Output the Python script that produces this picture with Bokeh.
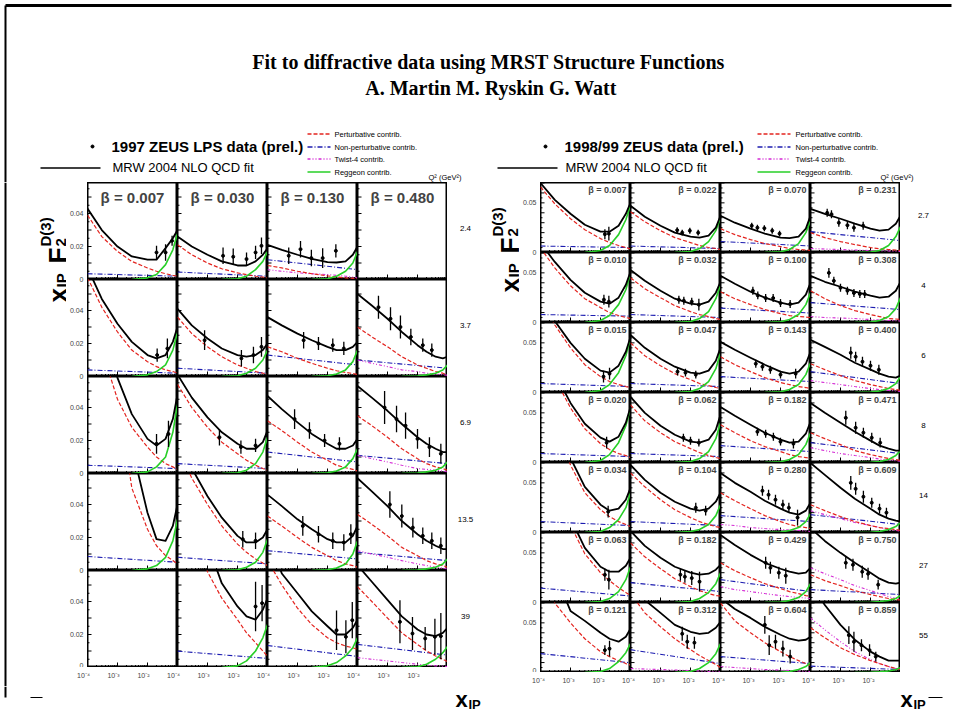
import math
from bokeh.plotting import figure
from bokeh.layouts import row, column
from bokeh.models import Range1d, Label, FixedTicker, CustomJSTickFormatter
from bokeh.core.properties import value
from bokeh.embed import file_html
from bokeh.resources import INLINE

# ---------------------------------------------------------------- data
XG = [1e-4, 3e-4, 1e-3, 3e-3, 1e-2, 2e-2, 4e-2, 7e-2, 1e-1]   # x_IP grid of total / perturbative / twist-4
XR = [3e-3, 1e-2, 2e-2, 4e-2, 7e-2, 1e-1]                    # x_IP grid of Reggeon curve
XB = [1e-4, 1e-1]                                            # x_IP grid of non-perturbative curve

TITLE1 = "Fit to diffractive data using MRST Structure Functions"
TITLE2 = "A. Martin  M. Ryskin G. Watt"
L_DATA_NAME = "1997 ZEUS LPS data (prel.)"
R_DATA_NAME = "1998/99 ZEUS data (prel.)"
FIT_NAME = "MRW 2004 NLO QCD fit"
COMP_NAMES = ["Perturbative contrib.", "Non-perturbative contrib.", "Twist-4 contrib.", "Reggeon contrib."]

L_BETA = ["0.007", "0.030", "0.130", "0.480"]
L_Q2 = ["2.4", "3.7", "6.9", "13.5", "39"]
R_Q2 = ["2.7", "4", "6", "8", "14", "27", "55"]
R_BETA = [
    ["0.007", "0.022", "0.070", "0.231"],
    ["0.010", "0.032", "0.100", "0.308"],
    ["0.015", "0.047", "0.143", "0.400"],
    ["0.020", "0.062", "0.182", "0.471"],
    ["0.034", "0.104", "0.280", "0.609"],
    ["0.063", "0.182", "0.429", "0.750"],
    ["0.121", "0.312", "0.604", "0.859"],
]
L_YTICKS = [0.0, 0.02, 0.04]
R_YTICKS = [0.0, 0.05]
YMAX_L = 0.0588
YMAX_R = 0.0705
X_MAJOR = [1e-3, 1e-2]
X_MINOR = [k * 10.0 ** e for e in (-4, -3, -2) for k in range(2, 10)]
Y_MAJOR = [0.01, 0.02, 0.03, 0.04, 0.05, 0.06, 0.07]
Y_MINOR = [0.005, 0.015, 0.025, 0.035, 0.045, 0.055, 0.065]

# ---- left panel (1997 LPS), rows = Q2, cols = beta
L_TOT = [
    [[.043, .030, .020, .014, .012, .012, .019, .025, .030],
     [.026, .020, .015, .011, .0085, .0085, .011, .015, .019],
     [.021, .018, .015, .0125, .0105, .0103, .011, .015, .020],
     None],
    [[.066, .047, .032, .021, .013, .011, .013, .021, .030],
     [.041, .031, .023, .017, .013, .012, .013, .016, .020],
     [.036, .031, .026, .022, .018, .016, .016, .018, .021],
     [.050, .043, .035, .027, .019, .015, .012, .011, .012]],
    [[.20, .10, .058, .036, .021, .017, .021, .033, .048],
     [.060, .046, .034, .025, .018, .015, .015, .019, .026],
     [.047, .039, .031, .024, .018, .015, .015, .017, .021],
     [.053, .046, .038, .030, .022, .018, .015, .013, .013]],
    [[.40, .25, .14, .075, .035, .019, .018, .027, .040],
     [.080, .062, .045, .032, .021, .017, .017, .020, .025],
     [.046, .039, .031, .025, .019, .017, .017, .021, .027],
     [.056, .048, .039, .030, .022, .018, .015, .013, .013]],
    [None,
     [.25, .14, .075, .051, .037, .031, .029, .035, .042],
     [.080, .057, .045, .034, .025, .020, .020, .024, .029],
     [.062, .052, .041, .031, .023, .020, .019, .021, .024]],
]
L_PERT = [
    [[.039, .026, .017, .011, .007, .005, .0035, .0025, .002],
     [.021, .015, .010, .0065, .004, .003, .002, .0015, .001],
     [.0085, .007, .005, .0035, .0022, .0015, .001, .0007, .0005],
     None],
    [[.060, .042, .027, .016, .009, .006, .004, .003, .002],
     [.036, .026, .018, .012, .007, .005, .003, .002, .0015],
     [.018, .015, .011, .008, .005, .0035, .0025, .0018, .0012],
     [.030, .024, .018, .012, .007, .005, .003, .002, .001]],
    [[.15, .075, .045, .028, .016, .010, .006, .004, .0025],
     [.054, .040, .028, .019, .012, .008, .005, .003, .002],
     [.032, .026, .019, .013, .008, .005, .0035, .0025, .0015],
     [.035, .029, .022, .015, .009, .006, .004, .003, .002]],
    [[.35, .22, .11, .050, .025, .015, .009, .006, .004],
     [.075, .056, .040, .027, .016, .011, .007, .0045, .003],
     [.033, .027, .020, .014, .009, .006, .004, .003, .002],
     [.034, .028, .021, .014, .009, .006, .004, .003, .002]],
    [None,
     [.16, .095, .058, .042, .029, .021, .015, .010, .0067],
     [.065, .050, .036, .026, .018, .015, .013, .012, .011],
     [.049, .040, .030, .021, .014, .010, .007, .005, .0036]],
]
L_NONP = [
    [[.0035, .002], [.0045, .002], [.012, .006], None],
    [[.004, .002], [.005, .002], [.013, .007], [.010, .005]],
    [[.005, .003], [.006, .003], [.013, .007], [.011, .006]],
    [[.0085, .005], [.008, .004], [.012, .007], [.011, .006]],
    [None, [.0099, .0055], [.0133, .0067], [.014, .0075]],
]
L_TW4 = [
    [None, None, [.006, .005, .004, .0035, .003, .0025, .002, .0015, .001], None],
    [None, None, None, [.010, .008, .006, .004, .003, .002, .0015, .001, .0008]],
    [None, None, None, [.011, .009, .007, .005, .003, .0025, .002, .0015, .001]],
    [None, None, None, [.012, .010, .008, .006, .004, .003, .002, .0015, .001]],
    [None, None, None, [.006, .005, .004, .003, .002, .0015, .001, .0008, .0006]],
]
L_REGG = [
    [[0, .001, .003, .009, .018, .028], [0, .0005, .002, .006, .011, .017],
     [0, .0005, .002, .005, .010, .017], None],
    [[0, .001, .003, .007, .016, .027], [0, .0005, .002, .005, .010, .016],
     [0, .0005, .0015, .004, .009, .016], [0, .0003, .001, .002, .004, .007]],
    [[0, .001, .004, .010, .025, .042], [0, .0005, .002, .006, .013, .022],
     [0, .0005, .0015, .004, .009, .015], [0, .0003, .001, .002, .004, .007]],
    [[0, .001, .003, .008, .018, .031], [0, .0005, .002, .005, .011, .019],
     [0, .0005, .0015, .004, .010, .018], [0, .0003, .001, .002, .004, .007]],
    [None, [0, .001, .004, .010, .018, .026],
     [0, .001, .003, .007, .012, .018], [0, .0005, .002, .005, .009, .0127]],
]
# data points: [x_IP, value, error]
L_PTS = [
    [[[2.0e-2, .0164, .004], [4.0e-2, .0164, .005], [6.6e-2, .0235, .003]],
     [[3.3e-3, .0144, .005], [7.2e-3, .0138, .005], [2.0e-2, .0124, .004], [4.0e-2, .0164, .004], [6.3e-2, .0204, .005]],
     [[5.1e-4, .0144, .005], [1.26e-3, .0184, .005], [2.9e-3, .013, .005], [6.9e-3, .013, .006], [1.9e-2, .0174, .004]],
     []],
    [[[2.1e-2, .013, .004], [4.6e-2, .017, .006]],
     [[8e-4, .022, .006], [1.35e-2, .011, .005], [3.4e-2, .013, .005], [6.3e-2, .018, .006]],
     [[1.6e-3, .022, .005], [5e-3, .020, .004], [1.5e-2, .019, .004], [3.5e-2, .017, .004]],
     [[5e-4, .042, .007], [1.26e-3, .035, .007], [2.7e-3, .030, .007], [6e-3, .024, .005], [1.5e-2, .019, .004], [3e-2, .016, .004]]],
    [[[2e-2, .018, .006], [5e-2, .024, .008]],
     [[2.5e-3, .022, .005], [1.3e-2, .016, .004], [4e-2, .017, .004]],
     [[8e-4, .033, .006], [2.5e-3, .026, .005], [8e-3, .020, .004], [2.5e-2, .018, .004]],
     [[8e-4, .040, .010], [2e-3, .033, .008], [4e-3, .029, .008], [1e-2, .021, .006], [2.5e-2, .016, .006], [6e-2, .012, .006]]],
    [[],
     [[1.5e-2, .019, .005], [4e-2, .018, .005]],
     [[1.5e-3, .027, .006], [5e-3, .022, .005], [1.5e-2, .018, .005], [3.5e-2, .017, .005], [6e-2, .022, .006]],
     [[1.2e-3, .040, .008], [3e-3, .033, .007], [7e-3, .026, .006], [1.5e-2, .021, .005], [3e-2, .018, .005], [6e-2, .015, .005]]],
    [[],
     [[4e-2, .037, .015], [6.6e-2, .039, .011]],
     [[2e-2, .0226, .012], [4.1e-2, .0186, .010], [6.7e-2, .0287, .011]],
     [[2.6e-3, .0277, .013], [6.8e-3, .0206, .010], [1.8e-2, .0176, .007], [3.8e-2, .0186, .011], [6e-2, .019, .014]]],
]

# ---- right panel (1998/99)
R_TOT = [
    [[.070, .053, .039, .028, .021, .021, .027, .039, .050],
     [.047, .036, .027, .020, .016, .015, .017, .025, .037],
     [.037, .030, .024, .019, .015, .0145, .016, .024, .037],
     [.044, .039, .034, .029, .024, .022, .023, .029, .037]],
    [[.080, .061, .043, .030, .021, .019, .025, .038, .051],
     [.053, .042, .032, .024, .019, .018, .021, .030, .041],
     [.047, .039, .031, .025, .020, .018, .020, .028, .040],
     [.047, .041, .036, .031, .027, .025, .026, .032, .041]],
    [[.10, .072, .050, .034, .022, .020, .027, .041, .056],
     [.058, .045, .034, .026, .020, .019, .022, .032, .045],
     [.051, .043, .035, .028, .021, .019, .021, .029, .041],
     [.053, .046, .038, .030, .023, .019, .016, .015, .017]],
    [[.13, .090, .060, .039, .025, .021, .026, .040, .056],
     [.066, .050, .037, .028, .021, .020, .023, .033, .048],
     [.056, .047, .038, .030, .023, .020, .021, .029, .041],
     [.060, .050, .040, .031, .022, .017, .014, .012, .012]],
    [[.18, .12, .075, .046, .028, .022, .024, .033, .045],
     [.068, .053, .040, .031, .024, .022, .024, .031, .040],
     [.060, .050, .041, .032, .024, .020, .018, .022, .030],
     [.070, .058, .045, .034, .024, .018, .014, .012, .011]],
    [[.20, .13, .085, .055, .036, .031, .031, .037, .045],
     [.072, .057, .045, .036, .030, .028, .029, .033, .038],
     [.068, .058, .048, .040, .034, .031, .029, .030, .035],
     [.075, .062, .050, .040, .030, .024, .020, .019, .020]],
    [[.15, .10, .062, .052, .040, .034, .031, .036, .044],
     [.10, .073, .060, .048, .041, .039, .040, .045, .051],
     [.075, .064, .055, .046, .038, .034, .032, .033, .036],
     [.09, .068, .048, .033, .021, .016, .012, .012, .012]],
]
R_PERT = [
    [[.066, .049, .034, .023, .014, .010, .007, .005, .0036],
     [.041, .031, .022, .015, .010, .007, .005, .004, .003],
     [.024, .018, .013, .009, .006, .004, .003, .0025, .002],
     [.020, .015, .011, .008, .005, .0038, .003, .0025, .002]],
    [[.075, .055, .037, .024, .015, .010, .007, .005, .004],
     [.045, .034, .025, .017, .011, .008, .006, .004, .003],
     [.031, .024, .018, .013, .009, .007, .006, .0055, .005],
     [.032, .024, .017, .012, .008, .006, .004, .0035, .003]],
    [[.095, .068, .045, .028, .016, .011, .008, .006, .005],
     [.050, .037, .027, .019, .013, .009, .007, .005, .004],
     [.036, .028, .021, .015, .010, .008, .006, .005, .004],
     [.029, .023, .017, .012, .008, .006, .004, .003, .002]],
    [[.12, .085, .055, .034, .019, .013, .009, .007, .005],
     [.058, .042, .030, .021, .014, .010, .007, .005, .004],
     [.038, .030, .022, .016, .011, .008, .006, .005, .004],
     [.030, .024, .018, .012, .008, .006, .004, .003, .002]],
    [[.17, .11, .068, .040, .023, .016, .011, .008, .006],
     [.060, .046, .033, .023, .015, .011, .008, .006, .005],
     [.040, .032, .024, .017, .011, .008, .006, .005, .004],
     [.028, .022, .016, .011, .007, .005, .004, .003, .002]],
    [[.19, .12, .078, .049, .030, .022, .015, .010, .007],
     [.060, .046, .034, .024, .016, .012, .009, .007, .0065],
     [.040, .032, .025, .019, .014, .011, .009, .007, .0065],
     [.028, .022, .017, .012, .008, .006, .004, .003, .0025]],
    [[.12, .070, .050, .034, .021, .016, .012, .009, .0075],
     [.080, .060, .046, .034, .023, .017, .012, .008, .005],
     [.070, .052, .040, .030, .021, .016, .012, .009, .007],
     [.045, .035, .025, .018, .012, .009, .006, .004, .003]],
]
R_NONP = [
    [[.0065, .005], [.0065, .004], [.011, .0066], [.021, .012]],
    [[.008, .0064], [.008, .005], [.0145, .0095], [.020, .013]],
    [[.009, .006], [.009, .006], [.016, .011], [.021, .009]],
    [[.009, .006], [.009, .006], [.017, .011], [.020, .009]],
    [[.011, .007], [.011, .007], [.017, .011], [.018, .008]],
    [[.0145, .0065], [.020, .011], [.023, .011], [.013, .008]],
    [[.019, .0098], [.023, .009], [.016, .009], [.0064, .003]],
]
R_TW4 = [
    [None, None, None, [.004, .0035, .003, .0025, .002, .0017, .0015, .0012, .001]],
    [None, None, None, [.006, .005, .0045, .004, .003, .0025, .002, .0018, .0015]],
    [None, None, None, [.012, .010, .008, .006, .004, .003, .002, .0015, .001]],
    [None, None, None, [.015, .012, .009, .007, .005, .0035, .0025, .0018, .0012]],
    [None, None, [.008, .007, .005, .004, .003, .0025, .002, .0015, .001],
     [.022, .018, .014, .010, .007, .005, .003, .002, .0015]],
    [None, None, [.016, .013, .011, .009, .007, .006, .005, .0045, .004],
     [.035, .029, .023, .017, .012, .009, .006, .004, .003]],
    [None, [.004, .0035, .003, .0025, .002, .0015, .001, .0008, .0006],
     [.006, .005, .004, .003, .0025, .002, .0015, .001, .001],
     [.055, .043, .031, .021, .013, .009, .006, .004, .003]],
]
R_REGG = [
    [[0, .002, .007, .018, .033, .048], [0, .001, .004, .011, .022, .035],
     [0, .0007, .003, .009, .020, .032], [0, .0005, .002, .007, .016, .026]],
    [[0, .002, .007, .018, .033, .050], [0, .001, .004, .011, .024, .038],
     [0, .0007, .003, .008, .018, .030], [0, .0005, .002, .006, .014, .025]],
    [[0, .002, .008, .020, .037, .055], [0, .001, .004, .011, .024, .040],
     [0, .0007, .003, .008, .018, .030], [0, .0004, .0015, .004, .009, .016]],
    [[0, .002, .008, .020, .037, .055], [0, .001, .004, .011, .024, .040],
     [0, .0007, .003, .008, .018, .030], [0, .0003, .001, .003, .007, .012]],
    [[0, .001, .005, .013, .025, .040], [0, .001, .003, .008, .017, .028],
     [0, .0005, .002, .005, .011, .019], [0, .0003, .001, .003, .006, .010]],
    [[0, .001, .004, .011, .023, .036], [0, .001, .004, .010, .019, .030],
     [0, .0005, .002, .005, .011, .019], [0, .0003, .001, .002, .004, .007]],
    [[0, .001, .004, .011, .020, .029], [0, .001, .004, .010, .019, .029],
     [0, .0003, .001, .003, .006, .010], [0, .0002, .0006, .0015, .003, .005]],
]
R_PTS = [
    [[[1.4e-2, .0184, .005], [1.9e-2, .019, .007]],
     [[3.6e-3, .0225, .003], [5.3e-3, .020, .003], [9.5e-3, .022, .003], [1.8e-2, .020, .003]],
     [[1.1e-3, .027, .003], [1.7e-3, .025, .003], [2.9e-3, .0245, .003], [5.3e-3, .022, .003], [9.3e-3, .019, .003]],
     [[3.6e-4, .040, .004], [5e-4, .0386, .004], [8.8e-4, .030, .004], [1.7e-3, .0275, .004], [2.8e-3, .025, .004], [5.7e-3, .027, .004]]],
    [[[1.3e-2, .023, .005], [1.9e-2, .021, .006]],
     [[4.1e-3, .023, .004], [6e-3, .022, .004], [1.1e-2, .021, .004], [1.9e-2, .018, .006]],
     [[1.2e-3, .032, .004], [1.75e-3, .0273, .004], [3.2e-3, .0246, .004], [5.7e-3, .0246, .004], [1e-2, .0196, .004], [2.1e-2, .0186, .004]],
     [[4.1e-4, .050, .005], [6e-4, .042, .004], [1e-3, .035, .004], [1.7e-3, .032, .004], [2.8e-3, .0297, .004], [4.4e-3, .0287, .004], [6.4e-3, .0287, .004]]],
    [[[1.26e-2, .016, .006], [2e-2, .019, .006]],
     [[3.7e-3, .021, .004], [6.8e-3, .020, .004], [1.5e-2, .018, .004]],
     [[1.5e-3, .029, .004], [2.5e-3, .026, .004], [4.6e-3, .023, .004], [1e-2, .018, .004], [3.2e-2, .019, .005]],
     [[2.2e-3, .040, .006], [3.2e-3, .036, .005], [5.4e-3, .031, .005], [1e-2, .027, .005], [1.9e-2, .023, .005]]],
    [[[1.6e-2, .020, .006]],
     [[5.8e-3, .025, .004], [1e-2, .022, .004], [1.9e-2, .020, .004]],
     [[1.7e-3, .031, .004], [3.2e-3, .029, .004], [5.8e-3, .026, .004], [1e-2, .021, .004], [2.7e-2, .019, .005]],
     [[1.5e-3, .045, .007], [3.2e-3, .035, .006], [5.8e-3, .030, .005], [1.1e-2, .025, .005], [2.1e-2, .020, .005]]],
    [[[1.8e-2, .021, .006]],
     [[1.5e-2, .025, .005], [3.2e-2, .022, .005]],
     [[2.5e-3, .042, .005], [4e-3, .038, .005], [6.8e-3, .033, .005], [1.2e-2, .028, .005], [1.9e-2, .025, .005], [3.7e-2, .015, .008]],
     [[2.2e-3, .050, .007], [3.2e-3, .044, .006], [5.8e-3, .036, .006], [1.1e-2, .030, .005], [2e-2, .024, .005], [3.4e-2, .020, .005]]],
    [[[1.4e-2, .028, .006], [1.9e-2, .023, .010]],
     [[4.6e-3, .028, .006], [6.5e-3, .026, .006], [1.1e-2, .0246, .007], [2e-2, .021, .010]],
     [[3.2e-3, .040, .006], [4.6e-3, .035, .006], [8.8e-3, .030, .006], [1.5e-2, .027, .008]],
     [[1.5e-3, .040, .006], [2.6e-3, .038, .006], [5.3e-3, .031, .006], [8.3e-3, .029, .006], [1.8e-2, .018, .005]]],
    [[[1.4e-2, .0225, .005], [2e-2, .024, .008]],
     [[5.3e-3, .039, .007], [7.8e-3, .031, .007], [1.35e-2, .030, .006]],
     [[3e-3, .048, .009], [4.2e-3, .0275, .010], [6.8e-3, .031, .007], [1.2e-2, .024, .008], [2.1e-2, .016, .007]],
     [[1.9e-3, .0376, .009], [2.8e-3, .031, .010], [5e-3, .0275, .006], [9.3e-3, .0225, .006], [1.5e-2, .016, .005]]],
]

# ---------------------------------------------------------------- style
SANS = "Liberation Sans"
SERIF = "Liberation Serif"
RED = "#e3241f"
BLUE = "#1c1cb0"
MAG = "#d42ad4"
GREEN = "#27cf27"
CW = 90
CH_L = 97
CH_R = 70
DASH_P = "4 2"
DASH_N = "5 2 1 2"
DASH_T = "3 2 1 2 1 2"


def blank(p):
    p.outline_line_color = None
    p.background_fill_color = "white"
    p.border_fill_color = "white"
    p.grid.visible = False
    return p


def pad(x0, y0, w, h):
    p = figure(width=w, height=h, x_range=Range1d(x0, x0 + w), y_range=Range1d(y0 + h, y0),
               x_axis_location=None, y_axis_location=None, output_backend="svg",
               toolbar_location=None, min_border=0)
    return blank(p)


def txt(p, x, y, s, size, bold=False, font=SANS, align="left", baseline="middle", angle=0.0):
    p.text(x=[x], y=[y], text=[s], text_font=value(font), text_font_size=value("%gpx" % size),
           text_font_style=value("bold" if bold else "normal"), text_align=value(align),
           text_baseline=value(baseline), angle=angle, text_color="black")


def hline(p, x0, x1, y, color="black", width=1.0, dash="solid"):
    p.line([x0, x1], [y, y], line_color=color, line_width=width, line_dash=dash)


def cell_ticks(p, ch, ymax):
    # inward tick marks along the bottom (log x) and left (linear y) edges of a cell
    def ylen(px):
        return ymax * px / ch

    def xlen(px):
        return 10 ** (-4 + px / 30.0)

    p.segment(x0=X_MAJOR, y0=[0] * len(X_MAJOR), x1=X_MAJOR, y1=[ylen(5)] * len(X_MAJOR),
              line_color="black", line_width=1)
    p.segment(x0=X_MINOR, y0=[0] * len(X_MINOR), x1=X_MINOR, y1=[ylen(2.5)] * len(X_MINOR),
              line_color="black", line_width=1)
    p.segment(x0=[1e-4] * len(Y_MAJOR), y0=Y_MAJOR, x1=[xlen(4)] * len(Y_MAJOR), y1=Y_MAJOR,
              line_color="black", line_width=1)
    p.segment(x0=[1e-4] * len(Y_MINOR), y0=Y_MINOR, x1=[xlen(2)] * len(Y_MINOR), y1=Y_MINOR,
              line_color="black", line_width=1)


def cell(ch, ymax, tot, pert, nonp, tw4, regg, pts):
    p = figure(width=CW, height=ch, x_axis_type="log",
               x_range=Range1d(1e-4, 1e-1), y_range=Range1d(0, ymax),
               x_axis_location=None, y_axis_location=None,
               output_backend="svg", toolbar_location=None, min_border=0)
    blank(p)
    p.outline_line_color = "black"
    p.outline_line_width = 2
    cell_ticks(p, ch, ymax)
    if nonp:
        p.line(XB, nonp, line_color=BLUE, line_width=1.1, line_dash=DASH_N)
    if tw4:
        p.line(XG, tw4, line_color=MAG, line_width=1.1, line_dash=DASH_T)
    if pert:
        p.line(XG, pert, line_color=RED, line_width=1.2, line_dash=DASH_P)
    if regg:
        p.line(XR, regg, line_color=GREEN, line_width=1.6)
    if tot:
        p.line(XG, tot, line_color="black", line_width=1.8, line_join="round")
    if pts:
        xs = [q[0] for q in pts]
        ys = [q[1] for q in pts]
        lo = [q[1] - q[2] for q in pts]
        hi = [q[1] + q[2] for q in pts]
        p.segment(x0=xs, y0=lo, x1=xs, y1=hi, line_color="black", line_width=1.3)
        p.scatter(xs, ys, size=3, color="black")
    return p


YJS = """
const r = Math.floor(tick / ym + 1e-6);
const v = tick - r * ym;
if (Math.abs(v) < 1e-6) { return "0"; }
return v.toFixed(2);
"""
XJS = """
const e = Math.round(Math.log10(tick));
const k = (((e + 4) % 3) + 3) % 3;
const s = ["10\u207b\u2074", "10\u207b\u00b3", "10\u207b\u00b2"];
return s[k];
"""


def style_axis(ax, standoff):
    ax.axis_line_color = None
    ax.major_tick_in = 0
    ax.major_tick_out = 0
    ax.minor_tick_in = 0
    ax.minor_tick_out = 0
    ax.major_label_text_font = SANS
    ax.major_label_text_font_size = "7px"
    ax.major_label_standoff = standoff


def ystrip(nrows, ch, ymax, yticks, lb):
    p = figure(frame_width=1, frame_height=nrows * ch, x_range=Range1d(0, 1),
               y_range=Range1d(0, nrows * ymax), x_axis_location=None, y_axis_location="left",
               output_backend="svg", toolbar_location=None, min_border=0, min_border_left=lb)
    blank(p)
    ax = p.yaxis[0]
    ax.ticker = FixedTicker(ticks=[r * ymax + v for r in range(nrows) for v in yticks], minor_ticks=[])
    ax.formatter = CustomJSTickFormatter(args=dict(ym=ymax), code=YJS)
    style_axis(ax, 3)
    return p


def xstrip(h, lb):
    p = figure(frame_width=361, frame_height=1, x_axis_type="log",
               x_range=Range1d(10 ** (-4 - 1 / 30.0), 1e8), y_range=Range1d(-1, 0),
               x_axis_location="below", y_axis_location=None,
               output_backend="svg", toolbar_location=None, min_border=0,
               min_border_left=lb, min_border_bottom=h - 1)
    blank(p)
    xa = p.xaxis[0]
    xa.ticker = FixedTicker(ticks=[10.0 ** (-4 + 3 * j + k) for j in range(4) for k in range(3)], minor_ticks=[])
    xa.formatter = CustomJSTickFormatter(code=XJS)
    style_axis(xa, 3)
    return p


# ---------------------------------------------------------------- grids of cells
left_rows = []
for r in range(5):
    rr = []
    for c in range(4):
        p = cell(CH_L, YMAX_L, L_TOT[r][c], L_PERT[r][c], L_NONP[r][c], L_TW4[r][c],
                 L_REGG[r][c], L_PTS[r][c])
        if r == 0:
            p.add_layout(Label(x=10 ** -2.5, y=YMAX_L - 15 / 1650.0, text="\u03b2 = " + L_BETA[c],
                               text_font=SANS, text_font_style="bold", text_font_size="15px",
                               text_align="center", text_baseline="middle"))
        rr.append(p)
    left_rows.append(row(*rr))
gridL = column(*left_rows)

right_rows = []
for r in range(7):
    rr = []
    for c in range(4):
        p = cell(CH_R, YMAX_R, R_TOT[r][c], R_PERT[r][c], R_NONP[r][c], R_TW4[r][c],
                 R_REGG[r][c], R_PTS[r][c])
        p.add_layout(Label(x=10 ** (-1 - 4 / 30.0), y=YMAX_R * (1 - 2.0 / CH_R),
                           text="\u03b2 = " + R_BETA[r][c],
                           text_font=SANS, text_font_style="bold", text_font_size="9px",
                           text_align="right", text_baseline="top"))
        rr.append(p)
    right_rows.append(row(*rr))
gridR = column(*right_rows)

MID_H = 504
LB_L = 16
LB_R = 18
colL = column(row(ystrip(5, CH_L, YMAX_L, L_YTICKS, LB_L), gridL), xstrip(MID_H - 5 * CH_L, LB_L))
colR = column(row(ystrip(7, CH_R, YMAX_R, R_YTICKS, LB_R), gridR), xstrip(MID_H - 7 * CH_R, LB_R))

# ---------------------------------------------------------------- pads
header = pad(0, 0, 956, 182)
hline(header, 5, 951, 5, width=3)
header.line([5, 5], [5, 182], line_color="black", line_width=2)
txt(header, 488, 61, TITLE1, 20, bold=True, font=SERIF, align="center")
txt(header, 493, 87, TITLE2, 20, bold=True, font=SERIF, align="center")


def legend_block(p, xdot, xtext, xline0, xline1, xs0, xs1, xst, xq2, dataname):
    p.scatter([xdot], [146], size=3, color="black")
    txt(p, xtext, 146, dataname, 15, bold=True)
    hline(p, xline0, xline1, 167.5, width=1.5)
    txt(p, xtext + 1, 167, FIT_NAME, 13)
    ys = [133.5, 146.5, 158.5, 171.5]
    styles = [(RED, DASH_P), (BLUE, DASH_N), (MAG, DASH_T), (GREEN, "solid")]
    for y, (col, dash), name in zip(ys, styles, COMP_NAMES):
        hline(p, xs0, xs1, y, color=col, width=1.4, dash=dash)
        txt(p, xst, y, name, 7.5)
    txt(p, xq2, 177, "Q\u00b2 (GeV\u00b2)", 7.5)


legend_block(header, 92, 111, 40, 100, 307, 330, 334, 428, L_DATA_NAME)
legend_block(header, 545, 564, 497, 557, 757, 790, 795, 880, R_DATA_NAME)


def ylabel(p, ax, ytop):
    a = math.pi / 2
    txt(p, ax, ytop, "x", 26, bold=True, baseline="alphabetic", angle=a)
    txt(p, ax + 3.5, ytop - 15, "IP", 15, bold=True, baseline="alphabetic", angle=a)
    txt(p, ax, ytop - 39, "F", 26, bold=True, baseline="alphabetic", angle=a)
    txt(p, ax + 3.5, ytop - 56, "2", 15, bold=True, baseline="alphabetic", angle=a)
    txt(p, ax - 12, ytop - 56, "D(3)", 15, bold=True, baseline="alphabetic", angle=a)


leftpad = pad(0, 182, 66, MID_H)
leftpad.line([5, 5], [182, 182 + MID_H], line_color="black", line_width=2)
ylabel(leftpad, 57, 302)

midpad = pad(443, 182, 72, MID_H)
for r, q in enumerate(L_Q2):
    txt(midpad, 461, 182 + CH_L * (r + 0.5) - 3, q, 8, align="center")
ylabel(midpad, 505, 292)

rightpad = pad(894, 182, 62, MID_H)
for r, q in enumerate(R_Q2):
    txt(rightpad, 917, 182 + CH_R * (r + 0.5) - 2, q, 8, align="center")

footer = pad(0, 182 + MID_H, 956, 721 - 182 - MID_H)
footer.line([5, 5], [182 + MID_H, 697], line_color="black", line_width=2)
hline(footer, 30, 42, 697, width=1)
hline(footer, 928, 942, 697, width=1)
for x0 in (455, 900):
    txt(footer, x0, 699, "x", 22, bold=True, baseline="alphabetic")
    txt(footer, x0 + 13, 704, "IP", 13, bold=True, baseline="alphabetic")

mid = row(leftpad, colL, midpad, colR, rightpad)
page = column(header, mid, footer)

open("out.html", "w").write(file_html(page, INLINE))
